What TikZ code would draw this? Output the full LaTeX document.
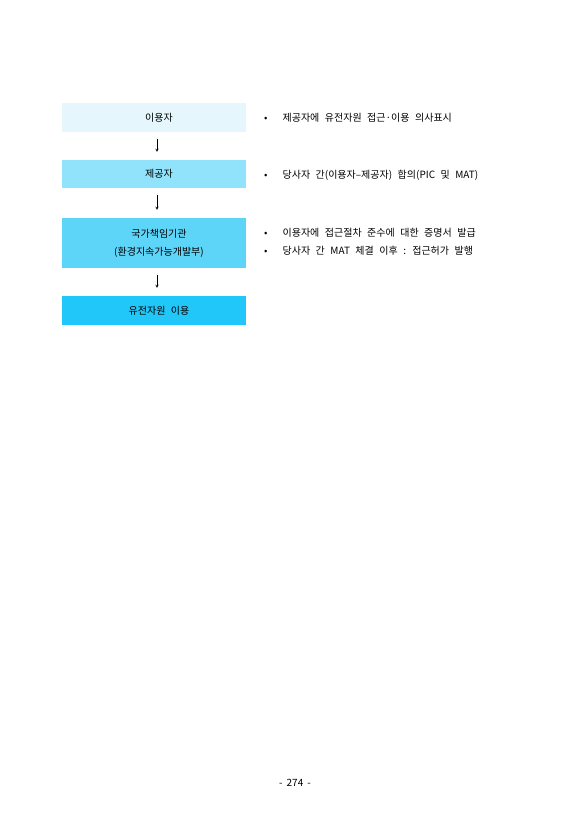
\documentclass[tikz,border=0pt]{standalone}
\usepackage{fontspec}
\setmainfont{Noto Sans CJK KR}
\usetikzlibrary{positioning}

\definecolor{boxa}{HTML}{E5F6FD}
\definecolor{boxb}{HTML}{90E3FB}
\definecolor{boxc}{HTML}{5DD5F9}
\definecolor{boxd}{HTML}{22C7F9}

\newcommand{\notefont}{\fontsize{10}{18}\selectfont\spaceskip=5.5pt\relax}

\tikzset{
  stage/.style={minimum width=184pt, inner sep=0pt},
  stagetext/.style={inner sep=0pt, align=center, xshift=5pt, font=\notefont},
  note/.style={anchor=west, inner sep=0pt, align=left, font=\notefont},
  flow/.style={->, >=stealth, line width=0.4pt, shorten <=7pt, shorten >=8pt}
}

\begin{document}
\begin{tikzpicture}[x=1pt, y=1pt]

\useasboundingbox[fill=white] (0,0) rectangle (587,-830);

% stages on the left
\node [stage, fill=boxa, minimum height=29pt] (user) at (154,-117.5) {};
\node [stage, fill=boxb, minimum height=28pt] (provider) at (154,-174) {};
\node [stage, fill=boxc, minimum height=50pt] (agency) at (154,-243) {};
\node [stage, fill=boxd, minimum height=29pt] (use) at (154,-310.5) {};

\node [stagetext] (userlbl) at (user.center) {이용자};
\node [stagetext] (providerlbl) at (provider.center) {제공자};
\node [stagetext] (agencylbl) at (agency.center) {국가책임기관\\(환경지속가능개발부)};
\node [stagetext] (uselbl) at (use.center) {유전자원 이용};

\draw [flow] ([xshift=3pt]user.south) -- ([xshift=3pt]provider.north);
\draw [flow] ([xshift=3pt]provider.south) -- ([xshift=3pt]agency.north);
\draw [flow] ([xshift=3pt]agency.south) -- ([xshift=3pt]use.north);

% notes on the right
\node [note] (n1) at (264,-118) {•\hspace{15pt}제공자에 유전자원 접근·이용 의사표시};
\node [note] (n2) at (264,-175) {•\hspace{15pt}당사자 간(이용자–제공자) 합의(PIC 및 MAT)};
\node [note] (n3) at (264,-233) {•\hspace{15pt}이용자에 접근절차 준수에 대한 증명서 발급};
\node [note] (n4) at (264,-251) {•\hspace{15pt}당사자 간 MAT 체결 이후 : 접근허가 발행};

% page number
\node [font=\fontsize{10}{12}\selectfont] (page) at (295,-783) {-\hspace{4pt}274\hspace{4pt}-};

\end{tikzpicture}
\end{document}
